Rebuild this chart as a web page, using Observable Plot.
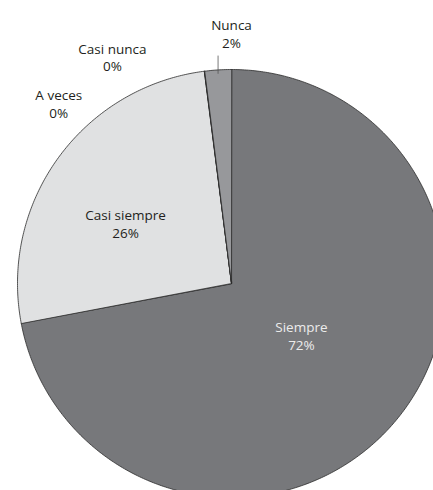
<!DOCTYPE html>
<html>
<head>
<meta charset="utf-8">
<script src="https://cdn.jsdelivr.net/npm/d3@7"></script>
<script src="https://cdn.jsdelivr.net/npm/@observablehq/plot@0.6"></script>
<style>
  html, body { margin: 0; padding: 0; background: #fff; overflow: hidden; }
  #chart { width: 433px; height: 490px; overflow: hidden; }
  #chart svg { font-family: "Open Sans", sans-serif; }
</style>
</head>
<body>
<div id="chart"></div>
<script>
// ---- data ----
const categories = ["Siempre", "Casi siempre", "A veces", "Casi nunca", "Nunca"];
const percents = [72, 26, 0, 0, 2];

// ---- style / layout (not data) ----
const sliceColors = ["#77787b", "#e0e1e2", "#d0d0d0", "#b0b0b0", "#97989b"];
const labelColors = ["#ececec", "#231f20", "#231f20", "#231f20", "#231f20"];
// label placement in polar terms: angle (deg, clockwise from top) and radius factor
const labelAngles = [126.6, 299.5, 316.2, 332.3, 0];
const labelRadii = [0.407, 0.569, 1.166, 1.197, 1.17];

const pie = d3.pie().sort(null).value(d => d)(percents);

// slice outlines
const slicePts = [];
pie.forEach((p, i) => {
  const name = categories[i];
  slicePts.push({name, x: 0, y: 0});
  const n = Math.max(2, Math.ceil((p.endAngle - p.startAngle) / 0.01));
  for (let k = 0; k <= n; k++) {
    const a = p.startAngle + (p.endAngle - p.startAngle) * k / n;
    slicePts.push({name, x: Math.sin(a), y: Math.cos(a)});
  }
});

const labels = categories.map((c, i) => {
  const a = labelAngles[i] * Math.PI / 180;
  return {
    text: `${c}\n${percents[i]}%`,
    x: Math.sin(a) * labelRadii[i],
    y: Math.cos(a) * labelRadii[i],
    color: labelColors[i]
  };
});

// leader line for the small outside slice (Nunca)
const nP = pie[4];
const nMid = (nP.startAngle + nP.endAngle) / 2;
const leaders = [{x: Math.sin(nMid), y1: 0.98, y2: 1.065}];

const chart = Plot.plot({
  width: 433,
  height: 490,
  margin: 0,
  x: {domain: [-1, 1], range: [17, 445], axis: null},
  y: {domain: [-1, 1], range: [497, 69], axis: null},
  color: {domain: categories, range: sliceColors},
  marks: [
    Plot.line(slicePts, {
      x: "x", y: "y", z: "name", fill: "name",
      stroke: "#2b2b2b", strokeWidth: 0.8, curve: "linear-closed"
    }),
    Plot.link(leaders, {x1: "x", x2: "x", y1: "y1", y2: "y2", stroke: "#555", strokeWidth: 0.8}),
    Plot.text(labels, {
      x: "x", y: "y", text: "text", fill: "color",
      fontSize: 13.5, lineHeight: 1.3, textAnchor: "middle"
    })
  ]
});
document.getElementById("chart").appendChild(chart);
</script>
</body>
</html>
